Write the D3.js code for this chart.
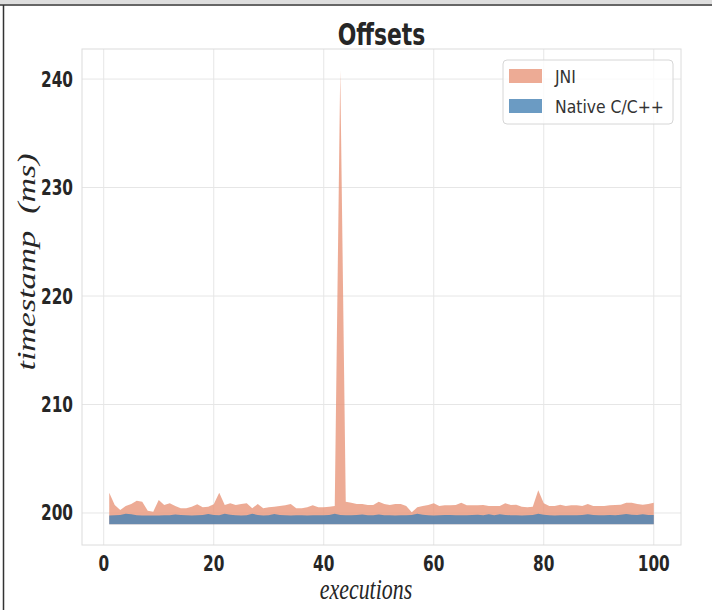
<!DOCTYPE html>
<html>
<head>
<meta charset="utf-8">
<script src="https://cdn.jsdelivr.net/npm/d3@7"></script>
<style>
  body { margin: 0; background: #fff; }
  svg { display: block; }
</style>
</head>
<body>
<div id="chart"></div>
<script>
// executions 1..100
const executions = d3.range(1, 101);

// JNI offsets (ms)
const jniValues = [
  201.87, 200.74, 200.28, 200.65, 200.83, 201.13, 201.04, 200.21, 200.12, 201.2,
  200.74, 200.9, 200.65, 200.43, 200.43, 200.58, 200.8, 200.52, 200.58, 200.8,
  201.87, 200.74, 200.9, 200.74, 200.83, 200.9, 200.43, 200.83, 200.43, 200.52,
  200.58, 200.65, 200.71, 200.83, 200.43, 200.43, 200.52, 200.71, 200.52, 200.52,
  200.58, 200.65, 240.8, 201.04, 200.95, 200.83, 200.83, 200.74, 200.74, 201.04,
  200.83, 200.74, 200.83, 200.83, 200.65, 200.06, 200.52, 200.65, 200.74, 200.9,
  200.65, 200.71, 200.71, 200.74, 200.95, 200.71, 200.71, 200.71, 200.74, 200.65,
  200.65, 200.65, 200.9, 200.74, 200.77, 200.58, 200.52, 200.58, 202.1, 200.9,
  200.65, 200.65, 200.77, 200.65, 200.71, 200.71, 200.65, 200.83, 200.65, 200.65,
  200.65, 200.71, 200.74, 200.77, 200.95, 200.95, 200.83, 200.77, 200.83, 200.95
];

// Native C/C++ offsets (ms)
const nativeValues = [
  199.78, 199.8, 199.82, 199.92, 199.88, 199.8, 199.78, 199.78, 199.77, 199.78,
  199.8, 199.8, 199.86, 199.82, 199.8, 199.78, 199.8, 199.82, 199.9, 199.82,
  199.8, 199.92, 199.84, 199.8, 199.78, 199.8, 199.92, 199.82, 199.78, 199.8,
  199.9, 199.82, 199.8, 199.78, 199.8, 199.8, 199.78, 199.8, 199.8, 199.8,
  199.82, 199.92, 199.82, 199.8, 199.8, 199.82, 199.86, 199.8, 199.8, 199.86,
  199.8, 199.8, 199.78, 199.8, 199.8, 199.82, 199.92, 199.84, 199.8, 199.78,
  199.8, 199.82, 199.82, 199.8, 199.8, 199.8, 199.82, 199.84, 199.8, 199.88,
  199.8, 199.88, 199.82, 199.8, 199.8, 199.78, 199.8, 199.82, 199.92, 199.84,
  199.8, 199.78, 199.8, 199.8, 199.8, 199.8, 199.82, 199.88, 199.82, 199.8,
  199.8, 199.82, 199.8, 199.84, 199.9, 199.84, 199.82, 199.88, 199.82, 199.82
];

const baseline = 198.96;
const xTicks = [0, 20, 40, 60, 80, 100];
const yTicks = [200, 210, 220, 230, 240];

const series = [
  { name: 'JNI', values: jniValues, color: '#E9967A' },
  { name: 'Native C/C++', values: nativeValues, color: '#4682B4' }
];

const width = 712, height = 610;
const plot = { left: 82, right: 681, top: 49, bottom: 545 };
const squeeze = 0.73; // picture is narrowed horizontally
const ink = '#262626';

const svg = d3.select('#chart').append('svg')
  .attr('width', width)
  .attr('height', height);

// screenshot border
svg.append('rect').attr('x', 0).attr('y', 0).attr('width', width).attr('height', 4).attr('fill', '#dedede');
svg.append('line').attr('x1', 0).attr('x2', width).attr('y1', 5).attr('y2', 5)
  .attr('stroke', '#333').attr('stroke-width', 1.5);
svg.append('line').attr('x1', 3.5).attr('x2', 3.5).attr('y1', 5).attr('y2', height)
  .attr('stroke', '#333').attr('stroke-width', 1.5);

const x = d3.scaleLinear().domain([-3.95, 104.95]).range([plot.left, plot.right]);
const y = d3.scaleLinear().domain([197.05, 242.77]).range([plot.bottom, plot.top]);

// grid
const grid = svg.append('g');
grid.selectAll('.gx').data(xTicks).enter().append('line')
  .attr('x1', d => x(d)).attr('x2', d => x(d))
  .attr('y1', plot.top).attr('y2', plot.bottom)
  .attr('stroke', '#e6e6e6').attr('stroke-width', 1);
grid.selectAll('.gy').data(yTicks).enter().append('line')
  .attr('x1', plot.left).attr('x2', plot.right)
  .attr('y1', d => y(d)).attr('y2', d => y(d))
  .attr('stroke', '#e6e6e6').attr('stroke-width', 1);

// areas
const area = d3.area()
  .x((d, i) => x(executions[i]))
  .y0(y(baseline))
  .y1(d => y(d));

series.forEach(s => {
  svg.append('path')
    .datum(s.values)
    .attr('d', area)
    .attr('fill', s.color)
    .attr('fill-opacity', 0.8);
});

// frame
svg.append('rect')
  .attr('x', plot.left).attr('y', plot.top)
  .attr('width', plot.right - plot.left).attr('height', plot.bottom - plot.top)
  .attr('fill', 'none').attr('stroke', '#dcdcdc').attr('stroke-width', 1);

// tick labels
const tickFont = 'DejaVu Sans, sans-serif';
svg.append('g').selectAll('text').data(yTicks).enter().append('text')
  .attr('transform', d => `translate(73, ${y(d) + 7.5}) scale(${squeeze},1)`)
  .attr('text-anchor', 'end')
  .attr('font-family', tickFont).attr('font-weight', 'bold').attr('font-size', 21)
  .attr('fill', ink)
  .text(d => d);

svg.append('g').selectAll('text').data(xTicks).enter().append('text')
  .attr('transform', d => `translate(${x(d)}, 571) scale(${squeeze},1)`)
  .attr('text-anchor', 'middle')
  .attr('font-family', tickFont).attr('font-weight', 'bold').attr('font-size', 21)
  .attr('fill', ink)
  .text(d => d);

// title
svg.append('text')
  .attr('transform', `translate(${(plot.left + plot.right) / 2}, 45) scale(${squeeze},1)`)
  .attr('text-anchor', 'middle')
  .attr('font-family', tickFont).attr('font-weight', 'bold').attr('font-size', 30)
  .attr('fill', ink)
  .text('Offsets');

// axis labels
svg.append('text')
  .attr('transform', `translate(366, 599) scale(${squeeze},1)`)
  .attr('text-anchor', 'middle')
  .attr('font-family', 'Liberation Serif, serif').attr('font-style', 'italic').attr('font-size', 30)
  .attr('fill', ink)
  .text('executions');

svg.append('text')
  .attr('transform', `translate(35, 262) rotate(-90) scale(1,${squeeze})`)
  .attr('text-anchor', 'middle')
  .attr('font-family', 'Liberation Serif, serif').attr('font-style', 'italic').attr('font-size', 34)
  .attr('fill', ink)
  .attr('xml:space', 'preserve')
  .text('timestamp  (ms)');

// legend
const legend = svg.append('g');
legend.append('rect')
  .attr('x', 503).attr('y', 60).attr('width', 170).attr('height', 64).attr('rx', 4)
  .attr('fill', '#fff').attr('fill-opacity', 0.8)
  .attr('stroke', '#d6d6d6').attr('stroke-width', 1);

series.forEach((s, i) => {
  const row = legend.append('g').attr('transform', `translate(509, ${69 + i * 30})`);
  row.append('rect')
    .attr('width', 33).attr('height', 14)
    .attr('fill', s.color).attr('fill-opacity', 0.8);
  row.append('text')
    .attr('transform', `translate(46, 14) scale(0.92,1)`)
    .attr('font-family', tickFont).attr('font-size', 17)
    .attr('fill', '#333')
    .text(s.name);
});
</script>
</body>
</html>
